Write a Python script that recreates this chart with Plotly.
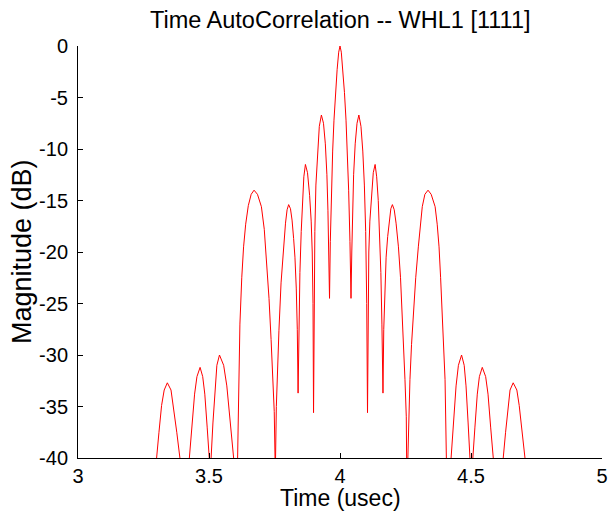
import plotly.graph_objects as go

# Time axis (usec) and magnitude (dB)
time_usec = [
    3.290,
    3.300, 3.309, 3.319, 3.329, 3.341, 3.355, 3.364, 3.377, 3.389,
    3.407,
    3.425, 3.434, 3.445, 3.454, 3.466, 3.476, 3.484, 3.493, 3.501,
    3.5045,
    3.508, 3.515, 3.523, 3.530, 3.540, 3.556, 3.568, 3.582, 3.594,
    3.601,
    3.608, 3.612, 3.618, 3.625, 3.632, 3.640, 3.650, 3.661, 3.672, 3.685,
    3.700, 3.711, 3.720, 3.729, 3.737, 3.744, 3.749, 3.752,
    3.753,
    3.754, 3.757, 3.761, 3.767, 3.775, 3.784, 3.792, 3.798, 3.804, 3.811,
    3.817, 3.823, 3.828, 3.833, 3.837, 3.840,
    3.843, 3.847, 3.852, 3.857, 3.862, 3.868, 3.876, 3.884, 3.890, 3.894, 3.897, 3.899,
    3.901, 3.904, 3.908, 3.914, 3.921, 3.929, 3.937, 3.944, 3.950, 3.954, 3.957, 3.960,
    3.963, 3.967, 3.972, 3.977, 3.983, 3.989, 3.995, 4.000,
    4.005, 4.011, 4.017, 4.023, 4.028, 4.033, 4.038, 4.042,
    4.045, 4.048, 4.052, 4.058, 4.065, 4.072, 4.080, 4.087, 4.093, 4.098, 4.102, 4.105,
    4.107, 4.110, 4.114, 4.120, 4.127, 4.134, 4.140, 4.146, 4.151, 4.156, 4.160, 4.164,
    4.167, 4.171, 4.176, 4.182, 4.188, 4.194, 4.200, 4.207, 4.214, 4.223,
    4.231, 4.238, 4.244, 4.248, 4.253, 4.256,
    4.2575,
    4.259, 4.263, 4.267, 4.273, 4.280, 4.289, 4.299, 4.306, 4.314, 4.324,
    4.336, 4.348, 4.363, 4.371, 4.378, 4.384, 4.390, 4.396, 4.401, 4.406,
    4.415,
    4.424, 4.433, 4.443, 4.452, 4.464, 4.474, 4.481, 4.489, 4.496,
    4.5015,
    4.507, 4.515, 4.524, 4.532, 4.543, 4.556, 4.565, 4.575, 4.585,
    4.604,
    4.623, 4.632, 4.641, 4.649, 4.661, 4.675, 4.684, 4.696, 4.706,
    4.715,
]

magnitude_db = [
    -50,
    -40, -37.5, -34.9, -33.4, -32.7, -33.4, -34.9, -37.5, -40,
    -52,
    -40, -37.0, -33.8, -32.1, -31.2, -32.1, -33.8, -37.0, -40,
    -50,
    -40, -36.6, -33.0, -31.0, -30.0, -31.0, -33.0, -36.6, -40,
    -52,
    -40, -33.0, -27.0, -22.5, -19.5, -17.3, -15.5, -14.4, -14.0, -14.4,
    -15.6, -17.8, -21.1, -24.5, -28.5, -32.0, -35.5, -40,
    -50,
    -40, -35, -31, -27.6, -23, -19.5, -17.2, -15.9, -15.4, -15.8,
    -16.9, -18.7, -20.5, -23.5, -27.5, -33.7,
    -27, -22, -18, -15, -12.7, -11.5, -12.3, -14.5, -17, -20, -25, -35.6,
    -25, -18, -13.5, -10.2, -7.8, -6.7, -7.5, -9.5, -12.5, -16, -20, -24.5,
    -19, -14, -10.2, -7.2, -4.5, -2.3, -0.6, 0,
    -0.6, -2.3, -4.5, -7.2, -10.2, -14, -19, -24.5,
    -20, -16, -12.5, -9.5, -7.5, -6.7, -7.8, -10.2, -13.5, -18, -25, -35.6,
    -25, -20, -17, -14.5, -12.3, -11.5, -12.7, -15, -18, -22, -27, -33.7,
    -27.5, -23.5, -20.5, -18.5, -16.9, -15.8, -15.4, -15.9, -17.2, -19.5,
    -22.5, -26, -29.5, -32.4, -36, -40,
    -50,
    -40, -35.5, -32.4, -29, -26, -22.5, -19.5, -17.3, -15.6, -14.4,
    -14.0, -14.4, -15.6, -17.3, -19.5, -22.5, -26, -29.5, -32.4, -40,
    -52,
    -40, -36.6, -33.0, -31.0, -30.0, -31.0, -33.0, -36.6, -40,
    -50,
    -40, -37.0, -33.8, -32.1, -31.2, -32.1, -33.8, -37.0, -40,
    -52,
    -40, -37.5, -34.9, -33.4, -32.7, -33.4, -34.9, -37.5, -40,
    -50,
]

x_ticks = [3, 3.5, 4, 4.5, 5]
x_tick_text = ["3", "3.5", "4", "4.5", "5"]
y_ticks = [0, -5, -10, -15, -20, -25, -30, -35, -40]
y_tick_text = ["0", "-5", "-10", "-15", "-20", "-25", "-30", "-35", "-40"]

FONT = "Liberation Sans, Arial, sans-serif"

fig = go.Figure()
fig.add_trace(go.Scatter(
    x=time_usec, y=magnitude_db, mode="lines",
    line=dict(color="rgb(255,0,0)", width=1),
    showlegend=False, hoverinfo="skip",
))

axis_common = dict(
    showgrid=False, zeroline=False, showline=True, linecolor="black", linewidth=1,
    ticks="inside", ticklen=5, tickcolor="black", tickwidth=1, mirror=False,
    automargin=False,
    tickfont=dict(family=FONT, size=20, color="black"),
)

fig.update_layout(
    template="none",
    width=610, height=518,
    margin=dict(l=78, r=8, t=46, b=60, pad=0),
    paper_bgcolor="white", plot_bgcolor="white",
    xaxis=dict(range=[3, 5], tickvals=x_ticks, ticktext=x_tick_text, **axis_common),
    yaxis=dict(range=[-40, 0], tickvals=y_ticks, ticktext=y_tick_text,
               ticklabelstandoff=5, **axis_common),
    annotations=[
        dict(text="Time AutoCorrelation -- WHL1 [1111]", xref="paper", yref="paper",
             x=0.5, y=1, yshift=26, showarrow=False, yanchor="middle",
             font=dict(family=FONT, size=23.5, color="black")),
        dict(text="Time (usec)", xref="paper", yref="paper",
             x=0.5, y=0, yshift=-40, showarrow=False, yanchor="middle",
             font=dict(family=FONT, size=23, color="black")),
        dict(text="Magnitude (dB)", xref="paper", yref="paper",
             x=0, y=0.5, xshift=-56, showarrow=False, textangle=-90, xanchor="center",
             font=dict(family=FONT, size=27, color="black")),
    ],
)

fig.write_html(
    "out.html",
    config={"displayModeBar": False},
    post_script="document.body.style.margin='0';document.body.style.overflow='hidden';"
                "document.documentElement.style.overflow='hidden';",
)
